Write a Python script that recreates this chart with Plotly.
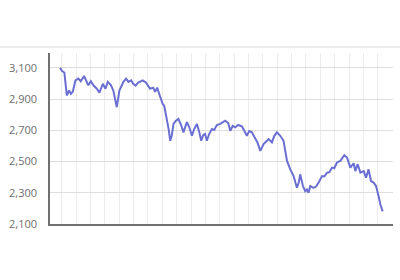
import plotly.graph_objects as go

days = [0, 1.4, 3.0, 4.7, 6.3, 7.5, 8.9, 10.7, 12.8, 14.4, 16.7, 18.1, 19.7, 21.4, 23.2, 25.6,
        27.4, 29.8, 31.6, 33.2, 35.5, 37.1, 39.5, 41.3, 44.1, 46.0, 47.6, 49.5, 50.9, 52.6,
        54.4, 57.6, 59.9, 62.7, 64.8, 66.2, 67.6, 69.7, 71.4, 72.5, 74.4, 75.6, 76.7, 77.7,
        79.0, 80.5, 82.4, 84.3, 85.9, 88.3, 89.9, 91.8, 93.4, 95.3, 96.9, 98.3, 99.7, 101.0,
        102.2, 103.8, 105.7, 107.3, 109.2, 111.5, 115.0, 117.1, 118.5, 120.2, 122.0, 124.0,
        126.6, 128.2, 130.1, 131.7, 133.6, 135.3, 137.3, 139.4, 141.7, 144.0, 145.2, 147.5,
        149.1, 151.0, 153.3, 155.6, 156.8, 158.0, 160.3, 162.6, 164.9, 166.2, 167.2, 169.1,
        170.7, 171.9, 173.0, 174.2, 176.5, 178.4, 180.0, 182.4, 184.0, 185.9, 187.5, 189.3,
        190.9, 192.8, 195.1, 197.9, 199.8, 202.1, 204.4, 205.6, 207.2, 209.1, 211.4, 213.0,
        214.8, 216.5, 218.3, 220.0, 221.8, 223.0, 224.6]

values = [3100, 3079, 3070, 2923, 2955, 2934, 2947, 3020, 3031, 3014, 3048, 3020, 2988, 3014,
          2988, 2966, 2941, 2998, 2966, 3010, 2988, 2955, 2848, 2955, 3010, 3031, 3010, 3020,
          2998, 2986, 3005, 3020, 3005, 2966, 2973, 2947, 2973, 2915, 2870, 2857, 2773, 2708,
          2633, 2663, 2741, 2760, 2773, 2734, 2687, 2752, 2721, 2665, 2708, 2741, 2689, 2633,
          2670, 2676, 2633, 2676, 2708, 2702, 2734, 2741, 2762, 2747, 2697, 2728, 2719, 2734,
          2726, 2695, 2665, 2695, 2687, 2657, 2625, 2568, 2612, 2633, 2644, 2623, 2663, 2687,
          2665, 2633, 2579, 2504, 2450, 2407, 2332, 2366, 2418, 2343, 2310, 2321, 2300, 2343,
          2332, 2341, 2365, 2407, 2405, 2429, 2431, 2461, 2457, 2494, 2504, 2541, 2526, 2461,
          2489, 2439, 2483, 2429, 2439, 2397, 2450, 2375, 2365, 2343, 2278, 2225, 2181]

y_ticks = [2100, 2300, 2500, 2700, 2900, 3100]

fig = go.Figure(go.Scatter(
    x=days, y=values, mode="lines",
    line=dict(color="#6b6fd2", width=2),
    hoverinfo="skip",
))

fig.update_layout(
    width=400, height=280,
    margin=dict(l=50, r=7, t=53, b=56),
    paper_bgcolor="white", plot_bgcolor="white",
    showlegend=False,
    font=dict(family="Open Sans, sans-serif", size=11, color="#6e6e6e"),
    xaxis=dict(
        range=[-7, 231.8], tick0=1.2, dtick=10,
        showgrid=True, gridcolor="#ececec", gridwidth=1,
        showticklabels=False, ticks="",
        showline=True, linecolor="#707070", linewidth=1.5,
        zeroline=False,
    ),
    yaxis=dict(
        range=[2100, 3195], tickvals=y_ticks,
        ticktext=[f"{v:,}" for v in y_ticks],
        showgrid=True, gridcolor="#dedede", gridwidth=1,
        ticks="", ticklabelstandoff=9,
        showline=True, linecolor="#707070", linewidth=1.5,
        zeroline=False,
    ),
    shapes=[dict(type="line", xref="paper", yref="paper",
                 x0=-0.2, x1=1.1, y0=1.035, y1=1.035,
                 line=dict(color="#ececec", width=2))],
)

fig.write_html("out.html")
